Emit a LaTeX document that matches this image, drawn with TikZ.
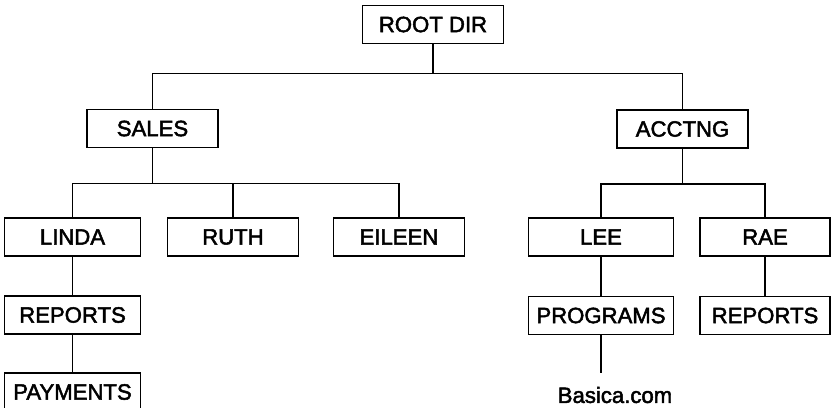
\documentclass[tikz,border=0pt]{standalone}
\usepackage{fontspec}
\setmainfont{Liberation Sans}
\newfontfamily\labelfont{Liberation Sans}[FakeBold=2.2]
\begin{document}
\begin{tikzpicture}[x=0.02cm,y=-0.02cm,
  txt/.style={font=\labelfont\fontsize{12.6}{14}\selectfont},
  dirbox/.style={txt, draw, line width=0.9pt, minimum height=0.76cm, inner sep=0pt,
    minimum width=2.62cm},
  wide/.style={minimum width=2.9cm},
  link/.style={line width=0.65pt}]
\useasboundingbox (0,0) rectangle (831,407);
\clip (0,0) rectangle (831,407);

% directory boxes
\node[dirbox, minimum width=2.82cm] (root) at (433,24.5) {ROOT DIR};
\node[dirbox] (sales) at (152.5,128.5) {SALES};
\node[dirbox] (acct)  at (682.5,129) {ACCTNG};

\node[dirbox, minimum width=2.72cm] (linda) at (72.5,237) {LINDA};
\node[dirbox] (ruth)   at (233,237) {RUTH};
\node[dirbox] (eileen) at (399,237) {EILEEN};
\node[dirbox, wide] (lee) at (601,237) {LEE};
\node[dirbox, minimum width=2.6cm] (rae) at (765,237) {RAE};

\node[dirbox, minimum width=2.72cm] (rep1) at (72.5,315) {REPORTS};
\node[dirbox, minimum width=2.72cm] (pay)  at (72.5,392) {PAYMENTS};
\node[dirbox, wide] (prog) at (601,315.5) {PROGRAMS};
\node[dirbox, minimum width=2.6cm] (rep2) at (765,315.5) {REPORTS};

\node[txt] (basica) at (615,395) {Basica.com};

% tree connectors
\coordinate (j0) at (433,73.5);
\draw[link] (root.south) -- (j0);
\draw[link] (sales.north) |- (j0) -| (acct.north);

\coordinate (j1) at (152.5,183.5);
\draw[link] (sales.south) -- (j1);
\draw[link] (linda.north) |- (j1) -| (eileen.north);
\draw[link] (ruth.north) -- (ruth.north |- j1);

\coordinate (j2) at (682.5,184);
\draw[link] (acct.south) -- (j2);
\draw[link] (lee.north) |- (j2) -| (rae.north);

\draw[link] (linda.south) -- (rep1.north);
\draw[link] (rep1.south) -- (pay.north);
\draw[link] (lee.south) -- (prog.north);
\draw[link] (rae.south) -- (rep2.north);

\coordinate (bend) at (601,373);
\draw[link] (prog.south) -- (bend);
\end{tikzpicture}
\end{document}
